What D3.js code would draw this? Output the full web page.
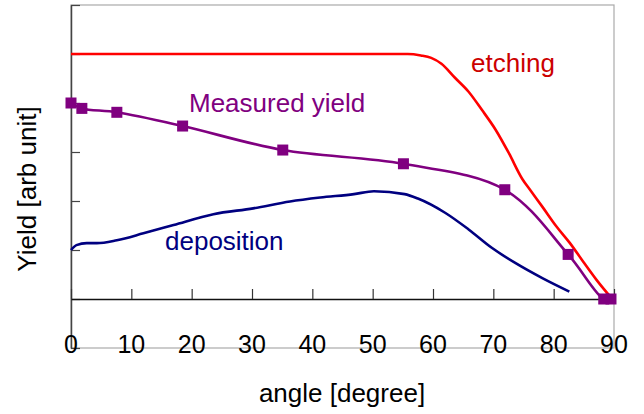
<!DOCTYPE html>
<html>
<head>
<meta charset="utf-8">
<script src="https://cdn.jsdelivr.net/npm/d3@7"></script>
<style>
  body { margin: 0; background: #fff; }
  text { font-family: "Liberation Sans", Arial, sans-serif; }
</style>
</head>
<body>
<div id="chart"></div>
<script>
// angle [degree] vs yield
const xTicks = [0, 10, 20, 30, 40, 50, 60, 70, 80, 90];
const yTicks = [-1, 0, 1, 2, 3, 4, 5, 6];

const measuredX = [0, 1.8, 7.6, 18.5, 35.1, 55.1, 71.9, 82.4, 88.3, 89.5];
const measuredY = [4.0, 3.89, 3.81, 3.53, 3.04, 2.76, 2.23, 0.91, 0, 0];

const etchX = [0, 10, 20, 30, 40, 50, 55.8, 58.0, 59.7, 61.4, 63.6, 65.9, 68.1, 70.4, 72.6, 74.8, 76.2, 78.2, 80.4, 82.7, 84.9, 87.1, 89.7];
const etchY = [5.0, 5.0, 5.0, 5.0, 5.0, 5.0, 5.0, 4.97, 4.92, 4.80, 4.52, 4.23, 3.86, 3.45, 2.97, 2.45, 2.21, 1.87, 1.49, 1.14, 0.76, 0.39, 0.0];

const depX = [0, 0.9, 2.6, 4.3, 7.6, 12.0, 17.0, 23.6, 30.2, 36.3, 41.3, 46.9, 50.2, 55.3, 57.5, 62.0, 65.9, 69.8, 73.7, 78.2, 82.6];
const depY = [1.0, 1.10, 1.14, 1.14, 1.20, 1.34, 1.51, 1.73, 1.85, 1.99, 2.07, 2.14, 2.20, 2.14, 2.05, 1.76, 1.42, 1.04, 0.73, 0.42, 0.15];

const width = 644, height = 414;
const plot = { left: 71, right: 614, top: 5, bottom: 348 };

const svg = d3.select("#chart").append("svg")
    .attr("width", width)
    .attr("height", height);

const x = d3.scaleLinear().domain([0, 90]).range([plot.left, plot.right]);
const y = d3.scaleLinear().domain([-1, 6]).range([plot.bottom, plot.top]);

// plot frame
svg.append("rect")
    .attr("x", plot.left).attr("y", plot.top)
    .attr("width", plot.right - plot.left).attr("height", plot.bottom - plot.top)
    .attr("fill", "none")
    .attr("stroke", "#aaa")
    .attr("stroke-width", 1.2);

// left axis, ticks pointing in
const yAxis = svg.append("g")
    .attr("transform", `translate(${plot.left},0)`)
    .call(d3.axisLeft(y).tickValues(yTicks).tickSize(-9).tickSizeOuter(0).tickFormat(""));
yAxis.select(".domain").attr("stroke", "#444").attr("stroke-width", 1.5);
yAxis.selectAll(".tick line").attr("stroke", "#444").attr("stroke-width", 1.2);

// x axis at y = 0, ticks pointing up
const xAxis = svg.append("g")
    .attr("transform", `translate(0,${y(0)})`)
    .call(d3.axisBottom(x).tickValues(xTicks).tickSize(-10).tickSizeOuter(0).tickFormat(""));
xAxis.select(".domain").attr("stroke", "#111").attr("stroke-width", 1.5);
xAxis.selectAll(".tick line").attr("stroke", "#333").attr("stroke-width", 1.2);

// tick labels sit on the bottom frame line
svg.append("g").selectAll("text")
    .data(xTicks)
    .join("text")
    .attr("x", d => x(d))
    .attr("y", 353)
    .attr("text-anchor", "middle")
    .attr("fill", "#000")
    .style("font-size", "25px")
    .text(d => d);

// curves
const etchLine = d3.line()
    .x(i => x(etchX[i])).y(i => y(etchY[i]))
    .curve(d3.curveMonotoneX);
svg.append("path")
    .attr("d", etchLine(d3.range(etchX.length)))
    .attr("fill", "none")
    .attr("stroke", "#ff0000")
    .attr("stroke-width", 2.6);

const depLine = d3.line()
    .x(i => x(depX[i])).y(i => y(depY[i]))
    .curve(d3.curveMonotoneX);
svg.append("path")
    .attr("d", depLine(d3.range(depX.length)))
    .attr("fill", "none")
    .attr("stroke", "#000080")
    .attr("stroke-width", 2.6);

const measLine = d3.line()
    .x(i => x(measuredX[i])).y(i => y(measuredY[i]))
    .curve(d3.curveCatmullRom.alpha(0.5));
svg.append("path")
    .attr("d", measLine(d3.range(measuredX.length)))
    .attr("fill", "none")
    .attr("stroke", "#800080")
    .attr("stroke-width", 2.6);

const sq = 11;
svg.append("g").selectAll("rect")
    .data(d3.range(measuredX.length))
    .join("rect")
    .attr("x", i => x(measuredX[i]) - sq / 2)
    .attr("y", i => y(measuredY[i]) - sq / 2)
    .attr("width", sq)
    .attr("height", sq)
    .attr("fill", "#800080");

// series labels
const labels = [
    { text: "etching", x: 471, y: 72, color: "#cc0000" },
    { text: "Measured yield", x: 189, y: 112, color: "#800080" },
    { text: "deposition", x: 165, y: 250, color: "#000080" }
];
svg.append("g").selectAll("text")
    .data(labels)
    .join("text")
    .attr("x", d => d.x)
    .attr("y", d => d.y)
    .attr("fill", d => d.color)
    .style("font-size", "26px")
    .text(d => d.text);

// axis titles
svg.append("text")
    .attr("x", 342)
    .attr("y", 402)
    .attr("text-anchor", "middle")
    .style("font-size", "26px")
    .text("angle [degree]");

svg.append("text")
    .attr("transform", "translate(36,189) rotate(-90)")
    .attr("text-anchor", "middle")
    .style("font-size", "26px")
    .text("Yield [arb unit]");
</script>
</body>
</html>
